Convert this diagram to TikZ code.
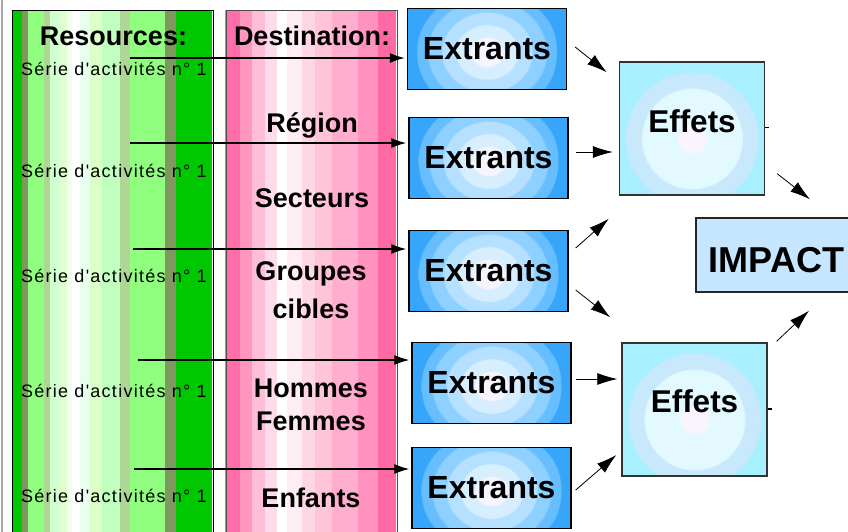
\documentclass[tikz,border=0pt]{standalone}
\usepackage{fontspec}
\setmainfont{Liberation Sans}
\newfontfamily\seriefont[LetterSpace=7]{Liberation Sans}
\usetikzlibrary{arrows.meta,calc}

% colours of the radial fills
\definecolor{xr0}{RGB}{246,244,255}
\definecolor{xr1}{RGB}{215,238,255}
\definecolor{xr2}{RGB}{182,224,255}
\definecolor{xr3}{RGB}{142,208,255}
\definecolor{xr4}{RGB}{102,190,255}
\definecolor{xr5}{RGB}{55,166,250}
\definecolor{fr0}{RGB}{250,244,255}
\definecolor{fr1}{RGB}{226,250,255}
\definecolor{fr2}{RGB}{200,232,252}
\definecolor{fr3}{RGB}{168,240,255}
\definecolor{impfill}{RGB}{198,230,255}

% banded radial fills; 25bp corresponds to the radius of the shaded circle
\pgfdeclareradialshading{extrshade}{\pgfpoint{0bp}{0bp}}{%
  color(0bp)=(xr0); color(5bp)=(xr0); color(5.5bp)=(xr1); color(9.5bp)=(xr1);
  color(10bp)=(xr2); color(14bp)=(xr2); color(14.5bp)=(xr3); color(18.5bp)=(xr3);
  color(19bp)=(xr4); color(22bp)=(xr4); color(22.5bp)=(xr5); color(50bp)=(xr5)}
\pgfdeclareradialshading{effshade}{\pgfpoint{0bp}{0bp}}{%
  color(0bp)=(fr0); color(4bp)=(fr0); color(5bp)=(fr1); color(15.5bp)=(fr1);
  color(16bp)=(fr2); color(20.5bp)=(fr2); color(21bp)=(fr3); color(50bp)=(fr3)}

\tikzset{
  colbox/.style={draw=#1, line width=1.2pt, inner sep=0pt, anchor=north west},
  extbox/.style={draw=black, line width=1.4pt, fill=xr5, inner sep=0pt,
    minimum width=159pt, minimum height=81pt,
    font=\fontsize{32}{36}\selectfont\bfseries,
    path picture={\shade[shading=extrshade]
      ([yshift=-3pt]path picture bounding box.center) circle (70pt);}},
  effbox/.style={draw=black!80, line width=1.4pt, fill=fr3, inner sep=0pt,
    minimum width=145pt, minimum height=133pt,
    path picture={\shade[shading=effshade]
      ([yshift=-10pt]path picture bounding box.center) circle (80pt);}},
  efftext/.style={anchor=base, inner sep=0pt, font=\fontsize{31.5}{36}\selectfont\bfseries},
  title/.style={anchor=base, inner sep=0pt, font=\fontsize{27}{30}\selectfont\bfseries},
  destlabel/.style={anchor=base, inner sep=0pt, font=\fontsize{27}{30}\selectfont\bfseries},
  serie/.style={anchor=base west, inner sep=0pt, font=\seriefont\fontsize{18}{20}\selectfont},
  harrow/.style={line width=1.3pt, -{Latex[length=15pt,width=10pt]}, shorten >=2pt},
  darrow/.style={line width=0.8pt, -{Latex[length=20pt,width=12pt]}},
}

\begin{document}
\begin{tikzpicture}[x=1pt,y=-1pt]
\path[use as bounding box, clip] (0,0) rectangle (848,531);
\fill[white] (0,0) rectangle (848,531);

% thin frame line on the left
\draw[black!35, line width=2pt] (2,-5) -- (2,540);

% striped green column
\foreach \a/\b/\r/\g/\bb in {
  12/22/0/200/0, 22/28/128/152/96, 28/44/144/255/128, 44/50/176/214/150,
  50/60/208/255/208, 60/67/224/255/208, 67/72/240/255/240, 72/80/255/255/255,
  80/90/232/255/240, 90/102/220/255/200, 102/120/192/255/192, 120/130/176/214/150,
  130/165/144/255/128, 165/176/128/152/96, 176/212/0/200/0}
  \fill[fill={rgb,255:red,\r;green,\g;blue,\bb}] (\a,10) rectangle (\b,545);
\node[colbox=black, minimum width=201pt, minimum height=540pt] (res) at (11.5,10) {};

% striped pink column
\foreach \a/\b/\r/\g/\bb in {
  225/240/255/110/170, 240/252/255/150/190, 252/265/255/190/215,
  265/277/255/220/235, 277/287/255/255/255, 287/302/255/236/245,
  302/315/255/215/228, 315/332/255/196/215, 332/358/255/175/205,
  358/378/255/146/190, 378/396/255/106/165}
  \fill[fill={rgb,255:red,\r;green,\g;blue,\bb}] (\a,10) rectangle (\b,545);
\node[colbox=black!70, minimum width=171pt, minimum height=540pt] (dest) at (225.5,10) {};

% column headings and labels
\node[title] (restitle) at (113.5,45) {Resources:};
\node[title] (desttitle) at (312,45) {Destination:};

\node[serie] (s1) at (21,75) {Série d'activités n° 1};
\node[serie] (s2) at (21,177) {Série d'activités n° 1};
\node[serie] (s3) at (21,282) {Série d'activités n° 1};
\node[serie] (s4) at (21,397) {Série d'activités n° 1};
\node[serie] (s5) at (21,502) {Série d'activités n° 1};

\node[destlabel] (d1) at (312,132) {Région};
\node[destlabel] (d2) at (312,207) {Secteurs};
\node[destlabel] (d3) at (311,280) {Groupes};
\node[destlabel] (d4) at (311,318) {cibles};
\node[destlabel] (d5) at (311,397) {Hommes};
\node[destlabel] (d6) at (311,430) {Femmes};
\node[destlabel] (d7) at (311,507) {Enfants};

% output boxes
\node[extbox] (e1) at (487,49) {Extrants};
\node[extbox] (e2) at (488.5,158) {Extrants};
\node[extbox] (e3) at (488.5,271) {Extrants};
\node[extbox] (e4) at (491.5,383) {Extrants};
\node[extbox] (e5) at (491.5,488) {Extrants};

% effect boxes
\node[effbox] (f1) at (692,128.5) {};
\node[efftext] (f1t) at (692,132) {Effets};
\node[effbox] (f2) at (694.5,409.5) {};
\node[efftext] (f2t) at (694.5,412) {Effets};

% impact box
\node[draw=black!85, line width=1.4pt, fill=impfill, inner sep=0pt,
  minimum width=161pt, minimum height=74pt] (imp) at (776.5,255) {};
\node[anchor=base, inner sep=0pt, font=\fontsize{36}{40}\selectfont\bfseries]
  (impt) at (776.5,272) {IMPACT};

% activity lines into the outputs
\coordinate (t1) at (130,58);
\coordinate (t2) at (130,143);
\coordinate (t3) at (133,249);
\coordinate (t4) at (138,360);
\coordinate (t5) at (134,469);
\draw[harrow] (t1) -- (t1 -| e1.west);
\draw[harrow] (t2) -- (t2 -| e2.west);
\draw[harrow] (t3) -- (t3 -| e3.west);
\draw[harrow] (t4) -- (t4 -| e4.west);
\draw[harrow] (t5) -- (t5 -| e5.west);

% outputs to effects
\draw[darrow] ($(e1.east)+(8,-2)$) -- ($(f1.north west)+(-12,11)$);
\draw[darrow] ($(e2.east)+(7,-6)$) -- ($(f1.west)+(-6,23.5)$);
\draw[darrow] ($(e3.east)+(7,-23)$) -- ($(f1.south west)+(-10,23)$);
\draw[darrow] ($(e3.east)+(7,19)$) -- ($(f2.north west)+(-11,-25)$);
\draw[darrow] ($(e4.east)+(4,-4)$) -- ($(f2.west)+(-4,-30.5)$);
\draw[darrow] ($(e5.east)+(4,2)$) -- ($(f2.west)+(-5,45.5)$);

% effects to impact
\draw[darrow] ($(f1.south east)+(12,-22)$) -- ($(imp.north)+(33.5,-18)$);
\draw[darrow] ($(f2.north east)+(9,-1)$) -- ($(imp.south)+(32.5,18)$);

% small ticks on the effect boxes
\draw[line width=1.2pt] ($(f1.east)+(0,-1)$) -- ++(4,0);
\draw[line width=1.2pt] ($(f2.east)+(0,-0.5)$) -- ++(4,0);
\end{tikzpicture}
\end{document}
